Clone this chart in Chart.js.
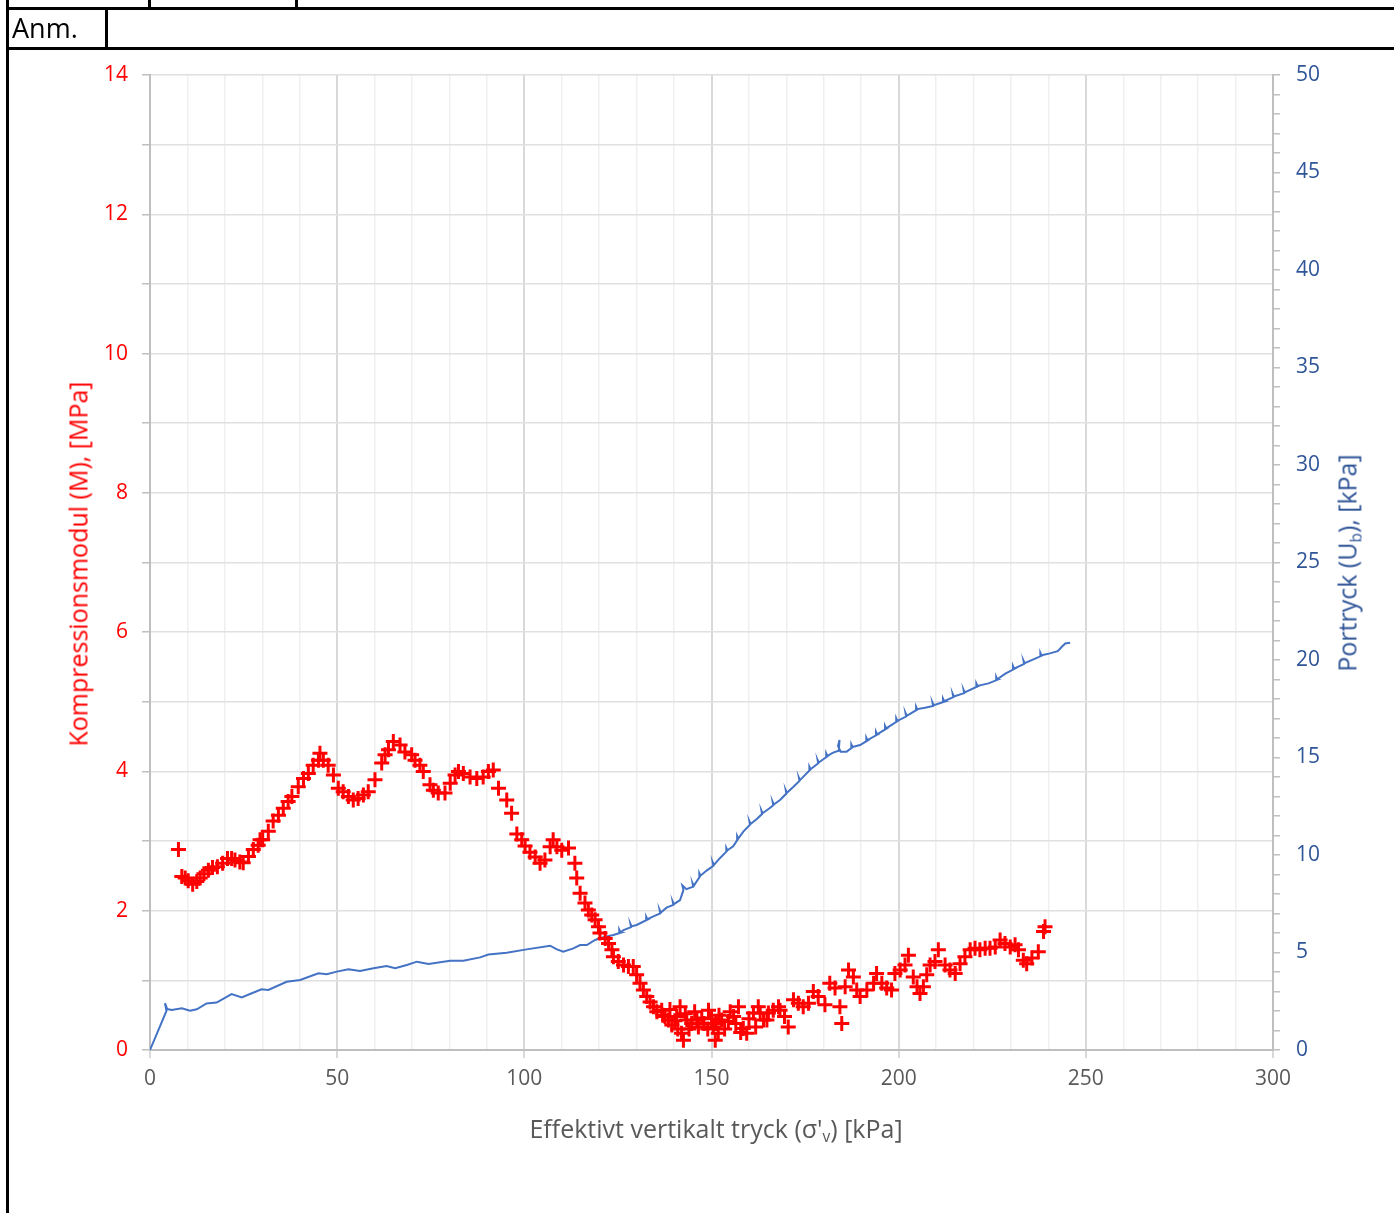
<!DOCTYPE html>
<html><head><meta charset="utf-8">
<script src="https://cdn.jsdelivr.net/npm/chart.js@4.4.1/dist/chart.umd.min.js"></script>
<style>
html,body{margin:0;padding:0;background:#fff;width:1394px;height:1213px;overflow:hidden;font-family:"Open Sans",sans-serif;}
canvas{position:absolute;left:0;top:0;}
.ln{position:absolute;background:#000;}
.t{position:absolute;white-space:nowrap;line-height:1;}
.rot{transform:translate(-50%,-50%) rotate(-90deg);}
sub{font-size:0.62em;vertical-align:-0.3em;line-height:0;}
</style></head><body>
<canvas id="c" width="1394" height="1213"></canvas>
<div class="ln" style="left:6px;top:0;width:3px;height:1213px"></div>
<div class="ln" style="left:6px;top:7px;width:1388px;height:3px"></div>
<div class="ln" style="left:6px;top:47px;width:1388px;height:3px"></div>
<div class="ln" style="left:105px;top:7px;width:3px;height:43px"></div>
<div class="ln" style="left:148px;top:0;width:3px;height:9px"></div>
<div class="ln" style="left:295px;top:0;width:3px;height:9px"></div>
<div class="t" style="left:12px;top:14px;font-size:27px;color:#000;">Anm.</div>
<div class="t" style="left:716px;top:1128px;transform:translate(-50%,-50%);font-size:25px;color:#595959;">Effektivt vertikalt tryck (σ'<sub>v</sub>) [kPa]</div>
<div class="t rot" style="left:78px;top:564px;font-size:25px;color:#ff0000;">Kompressionsmodul (M), [MPa]</div>
<div class="t rot" style="left:1347px;top:563px;font-size:25px;color:#2f5597;">Portryck (U<sub>b</sub>), [kPa]</div>
<script>
// ---- data ----
const modSigma = [7.6,8.5,9.4,10.2,11.4,12.5,13.4,14.4,15.6,16.7,18.0,19.4,20.7,21.8,22.7,24.0,24.9,26.3,27.6,28.9,29.4,30.1,31.6,32.9,34.3,35.6,36.9,37.9,39.6,41.0,42.3,43.6,45.0,45.4,46.3,47.6,49.0,50.3,51.6,53.0,54.3,55.6,57.0,58.3,60.1,61.9,62.8,63.7,65.0,66.8,68.1,69.9,70.8,72.1,73.0,74.8,75.7,77.0,78.8,80.2,81.5,82.4,83.7,85.5,87.3,89.0,90.4,91.7,93.1,95.3,96.6,98.0,99.3,100.2,101.5,102.9,104.2,105.5,106.9,107.7,108.7,110.0,111.8,113.5,114.0,114.9,116.2,117.1,118.0,118.9,119.8,120.2,121.6,122.5,123.4,123.8,125.1,126.5,127.8,129.1,130.0,130.9,131.8,132.7,133.6,134.5,135.4,136.7,137.0,137.6,138.5,138.9,139.4,140.2,140.7,141.0,141.6,142.0,142.5,143.0,143.4,144.0,144.7,145.5,146.1,146.5,147.4,148.0,149.0,149.2,150.0,150.5,151.0,151.2,151.8,152.0,152.7,153.5,154.5,155.0,155.9,156.5,157.2,157.8,158.5,159.4,160.0,161.2,161.8,162.5,163.0,163.9,164.8,165.2,166.5,167.9,168.3,169.5,170.5,171.9,173.2,174.5,175.9,177.2,178.5,180.3,181.6,183.0,184.3,184.8,185.7,186.6,187.9,188.8,189.7,191.5,193.3,194.1,195.5,196.8,198.1,199.0,200.4,201.7,202.6,203.9,204.9,205.7,206.6,207.5,208.4,209.7,210.6,212.4,213.7,215.1,216.4,217.7,219.1,220.4,221.7,223.1,224.4,225.8,227.1,228.4,229.8,231.1,232.0,233.3,234.2,235.6,237.3,238.7,239.1];
const modulusM = [2.88,2.49,2.47,2.43,2.38,2.42,2.47,2.53,2.58,2.62,2.63,2.68,2.75,2.75,2.73,2.70,2.69,2.78,2.88,2.94,3.02,3.02,3.14,3.29,3.37,3.47,3.57,3.64,3.78,3.90,3.97,4.09,4.16,4.26,4.16,4.09,3.95,3.76,3.71,3.64,3.59,3.61,3.66,3.71,3.88,4.12,4.24,4.31,4.43,4.38,4.28,4.24,4.16,4.09,4.00,3.81,3.73,3.69,3.69,3.83,3.95,4.00,3.97,3.92,3.90,3.92,4.00,4.02,3.76,3.59,3.40,3.10,3.02,2.93,2.84,2.77,2.68,2.73,2.92,3.02,2.92,2.87,2.90,2.68,2.47,2.25,2.11,2.01,1.94,1.87,1.77,1.68,1.60,1.53,1.44,1.34,1.27,1.22,1.20,1.20,1.08,0.96,0.86,0.77,0.69,0.62,0.55,0.57,0.50,0.48,0.43,0.58,0.36,0.42,0.48,0.30,0.62,0.24,0.14,0.52,0.43,0.30,0.38,0.55,0.43,0.33,0.46,0.38,0.30,0.57,0.45,0.33,0.14,0.38,0.24,0.50,0.43,0.30,0.41,0.55,0.48,0.38,0.62,0.25,0.31,0.24,0.45,0.53,0.33,0.62,0.53,0.43,0.43,0.53,0.57,0.62,0.57,0.48,0.33,0.72,0.67,0.62,0.67,0.84,0.77,0.65,0.96,0.89,0.62,0.38,0.91,1.15,1.05,0.86,0.77,0.86,0.96,1.10,0.96,0.89,0.86,1.10,1.15,1.22,1.36,1.05,0.91,0.81,0.91,1.08,1.22,1.27,1.44,1.22,1.15,1.10,1.24,1.34,1.44,1.46,1.44,1.46,1.46,1.48,1.58,1.53,1.48,1.51,1.44,1.29,1.24,1.32,1.41,1.70,1.77];
const poreSigma = [0,4.4,4.0,4.6,5.8,8.5,10.7,12.5,15.1,17.8,21.8,24.5,26.7,29.8,31.6,36.5,40.1,45.0,47.2,49.9,53.0,56.1,59.7,63.2,65.5,68.6,71.3,74.4,80.2,83.7,88.2,90.4,95.3,100.6,106.9,108.7,110.4,113.1,114.9,116.7,118.9,121.1,123.8,125.5,125.35,125.65,126.5,128.5,128.35,128.65,130.0,132.7,132.55,132.85,134.5,136.3,136.15,136.45,138.0,139.8,139.65,139.95,141.6,142.5,142.2,143.3,145.1,144.95,145.25,146.9,146.75,147.05,148.7,150.5,150.35,150.65,152.3,154.1,153.95,154.25,155.8,157.0,156.85,157.15,158.5,160.3,160.15,160.45,162.1,163.5,163.35,163.65,165.5,166.5,166.35,166.65,168.3,170.0,169.85,170.15,171.9,173.5,173.35,173.65,176.3,176.15,176.45,178.5,178.35,178.65,180.8,180.65,180.95,182.5,184.0,184.2,183.8,184.5,186.1,187.5,187.35,187.65,189.7,191.5,191.35,191.65,194.1,193.95,194.25,196.5,196.35,196.65,199.5,199.35,199.65,202.0,201.85,202.15,204.8,204.65,204.95,207.0,209.2,209.05,209.35,212.0,211.85,212.15,214.6,214.45,214.75,217.5,217.35,217.65,220.9,220.75,221.05,224.0,226.2,226.05,226.35,228.5,230.7,230.55,230.85,233.5,233.35,233.65,236.0,238.0,237.85,238.15,240.4,242.5,243.6,244.5,245.8];
const porePressure = [0,2.0,2.4,2.1,2.05,2.14,2.02,2.09,2.39,2.43,2.87,2.70,2.87,3.11,3.08,3.50,3.59,3.93,3.88,4.02,4.14,4.05,4.19,4.31,4.19,4.36,4.53,4.41,4.58,4.58,4.75,4.90,4.99,5.16,5.35,5.16,5.04,5.21,5.38,5.38,5.64,5.78,5.90,6.00,6.17,6.04,6.15,6.30,6.47,6.34,6.41,6.67,6.84,6.71,6.85,7.01,7.18,7.05,7.30,7.44,7.61,7.48,7.69,8.20,8.45,8.25,8.38,8.55,8.42,8.90,9.07,8.94,9.20,9.45,9.62,9.49,9.85,10.20,10.37,10.24,10.45,10.80,10.97,10.84,11.20,11.55,11.72,11.59,11.85,12.10,12.27,12.14,12.40,12.55,12.72,12.59,12.82,13.15,13.32,13.19,13.50,13.80,13.97,13.84,14.36,14.53,14.40,14.70,14.87,14.74,15.04,15.21,15.08,15.25,15.35,15.90,15.60,15.30,15.30,15.50,15.67,15.54,15.64,15.85,16.02,15.89,16.15,16.32,16.19,16.45,16.62,16.49,16.84,17.01,16.88,17.10,17.27,17.14,17.44,17.61,17.48,17.55,17.64,17.81,17.68,17.85,18.02,17.89,18.09,18.26,18.13,18.30,18.47,18.34,18.63,18.80,18.67,18.80,18.97,19.14,19.01,19.30,19.52,19.69,19.56,19.80,19.97,19.84,20.03,20.20,20.37,20.24,20.34,20.45,20.68,20.85,20.89];
const xTickLabels = [0,50,100,150,200,250,300];
const leftTickLabels = [0,2,4,6,8,10,12,14];
const rightTickLabels = [0,5,10,15,20,25,30,35,40,45,50];

const FONT = '"Open Sans", sans-serif';
new Chart(document.getElementById('c'), {
  type: 'scatter',
  data: { datasets: [
    { label: 'Kompressionsmodul', data: modSigma.map((x, i) => ({ x: x, y: modulusM[i] })), yAxisID: 'y',
      pointStyle: 'cross', pointRadius: 7.5, pointBorderWidth: 3, borderColor: '#ff0000', backgroundColor: '#ff0000', showLine: false, order: 1 },
    { label: 'Portryck', data: poreSigma.map((x, i) => ({ x: x, y: porePressure[i] })), yAxisID: 'y2',
      showLine: true, borderColor: '#4472c4', borderWidth: 2, pointRadius: 0, tension: 0, order: 2 }
  ]},
  options: {
    responsive: false, animation: false, devicePixelRatio: 1,
    layout: { padding: { top: 75, left: 0, right: 0, bottom: 0 } },
    plugins: { legend: { display: false }, tooltip: { enabled: false } },
    scales: {
      x: { type: 'linear', min: 0, max: 300, afterFit(s) { s.height = 163; },
        ticks: { stepSize: 10, autoSkip: false, maxRotation: 0, color: '#595959', font: { family: FONT, size: 21 }, padding: 8,
          callback: v => xTickLabels.includes(v) ? String(v) : '' },
        grid: { color: c => (c.tick && c.tick.value % 50 === 0) ? '#d9d9d9' : '#efefef',
          lineWidth: c => (c.tick && c.tick.value % 50 === 0) ? 2 : 1.5,
          tickLength: 8, tickColor: c => (c.tick && c.tick.value % 50 === 0) ? '#d9d9d9' : 'rgba(0,0,0,0)' },
        border: { color: '#bfbfbf', width: 2 } },
      y: { position: 'left', min: 0, max: 14, afterFit(s) { s.width = 150; },
        ticks: { stepSize: 1, autoSkip: false, color: '#ff0000', font: { family: FONT, size: 21 }, padding: 14,
          callback: v => leftTickLabels.includes(v) ? String(v) : '' },
        grid: { color: '#e0e0e0', lineWidth: 1.5, tickLength: 8, tickColor: '#bfbfbf' },
        border: { color: '#bfbfbf', width: 2 } },
      y2: { position: 'right', min: 0, max: 50, afterFit(s) { s.width = 121; },
        ticks: { stepSize: 1, autoSkip: false, color: '#2f5597', font: { family: FONT, size: 21 }, padding: 16,
          callback: v => rightTickLabels.includes(v) ? String(v) : '' },
        grid: { drawOnChartArea: false, tickLength: 7, tickColor: '#bfbfbf', lineWidth: 1.5 },
        border: { color: '#bfbfbf', width: 2 } }
    }
  }
});
</script>
</body></html>
